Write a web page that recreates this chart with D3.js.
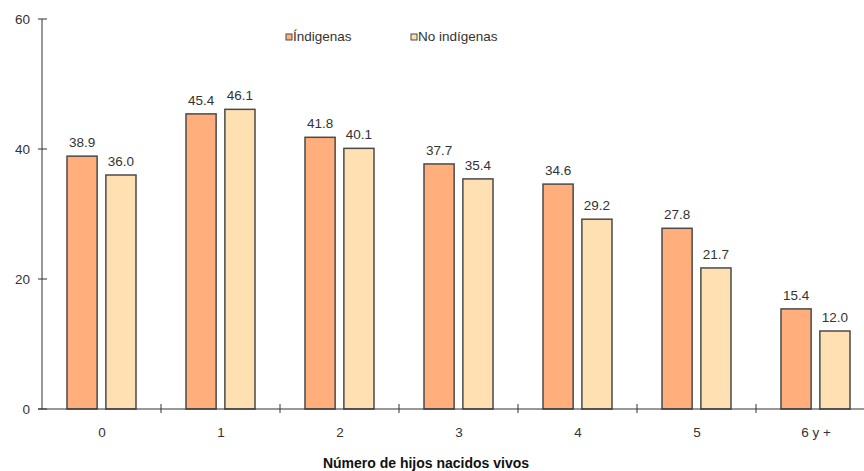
<!DOCTYPE html>
<html>
<head>
<meta charset="utf-8">
<script src="https://cdn.jsdelivr.net/npm/d3@7"></script>
<style>
  html, body { margin: 0; padding: 0; background: #fff; }
  svg { display: block; font-family: "Liberation Sans", Arial, sans-serif; }
</style>
</head>
<body>
<svg id="chart" width="864" height="471"></svg>
<script>
// Categories: number of live-born children
const categories = ["0", "1", "2", "3", "4", "5", "6 y +"];
const seriesNames = ["Índigenas", "No indígenas"];
const indigenas = [38.9, 45.4, 41.8, 37.7, 34.6, 27.8, 15.4];
const noIndigenas = [36.0, 46.1, 40.1, 35.4, 29.2, 21.7, 12.0];
const yTicks = [0, 20, 40, 60];
const xTitle = "Número de hijos nacidos vivos";

const colors = ["#FFAE7C", "#FFE0B2"];
const seriesValues = [indigenas, noIndigenas];

const svg = d3.select("#chart");
const x0 = 42, yBase = 409, yTop = 19;
const fs = 13.5;

const x = d3.scaleBand().domain(categories).range([x0, x0 + 7 * 119]).padding(0);
const xs = d3.scaleBand().domain(seriesNames).range([25, 94]).paddingInner(0.225).paddingOuter(0);
const y = d3.scaleLinear().domain([0, 60]).range([yBase, yTop]);

// Y axis line and ticks
svg.append("line").attr("x1", x0).attr("x2", x0).attr("y1", yTop).attr("y2", yBase)
  .attr("stroke", "#333").attr("stroke-width", 1);
const yt = svg.append("g");
yTicks.forEach(t => {
  yt.append("line").attr("x1", x0 - 4).attr("x2", x0 + 5).attr("y1", y(t)).attr("y2", y(t))
    .attr("stroke", "#333");
  yt.append("text").attr("x", 30).attr("y", y(t) + 5).attr("text-anchor", "end")
    .attr("font-size", fs).attr("fill", "#333").text(t);
});

// Bars
const data = [];
categories.forEach((c, i) => seriesNames.forEach((s, j) => data.push({ c, s, j, v: seriesValues[j][i] })));

svg.append("g").selectAll("rect").data(data).join("rect")
  .attr("x", d => x(d.c) + xs(d.s))
  .attr("y", d => y(d.v))
  .attr("width", xs.bandwidth())
  .attr("height", d => yBase - y(d.v))
  .attr("fill", d => colors[d.j])
  .attr("stroke", "#4a4a4a")
  .attr("stroke-width", 1.5);

svg.append("g").selectAll("text").data(data).join("text")
  .attr("x", d => x(d.c) + xs(d.s) + xs.bandwidth() / 2)
  .attr("y", d => y(d.v) - 9)
  .attr("text-anchor", "middle")
  .attr("font-size", fs)
  .attr("fill", "#333")
  .text(d => d.v.toFixed(1));

// X axis line, boundary ticks and category labels
svg.append("line").attr("x1", x0 - 4).attr("x2", 864).attr("y1", yBase).attr("y2", yBase)
  .attr("stroke", "#333");
categories.slice(1).forEach(c => {
  svg.append("line").attr("x1", x(c)).attr("x2", x(c)).attr("y1", yBase - 5).attr("y2", yBase + 4)
    .attr("stroke", "#333");
});
svg.append("g").selectAll("text").data(categories).join("text")
  .attr("x", c => x(c) + 60)
  .attr("y", 437)
  .attr("text-anchor", "middle")
  .attr("font-size", fs)
  .attr("fill", "#333")
  .text(c => c);

svg.append("text").attr("x", 426).attr("y", 468).attr("text-anchor", "middle")
  .attr("font-size", 14).attr("font-weight", "bold").attr("fill", "#111").text(xTitle);

// Legend
const legendX = [286, 411];
seriesNames.forEach((s, j) => {
  svg.append("rect").attr("x", legendX[j]).attr("y", 34).attr("width", 6).attr("height", 6)
    .attr("fill", colors[j]).attr("stroke", "#4a4a4a").attr("stroke-width", 1);
  svg.append("text").attr("x", legendX[j] + 7).attr("y", 41).attr("font-size", fs)
    .attr("fill", "#333").text(s);
});
</script>
</body>
</html>
